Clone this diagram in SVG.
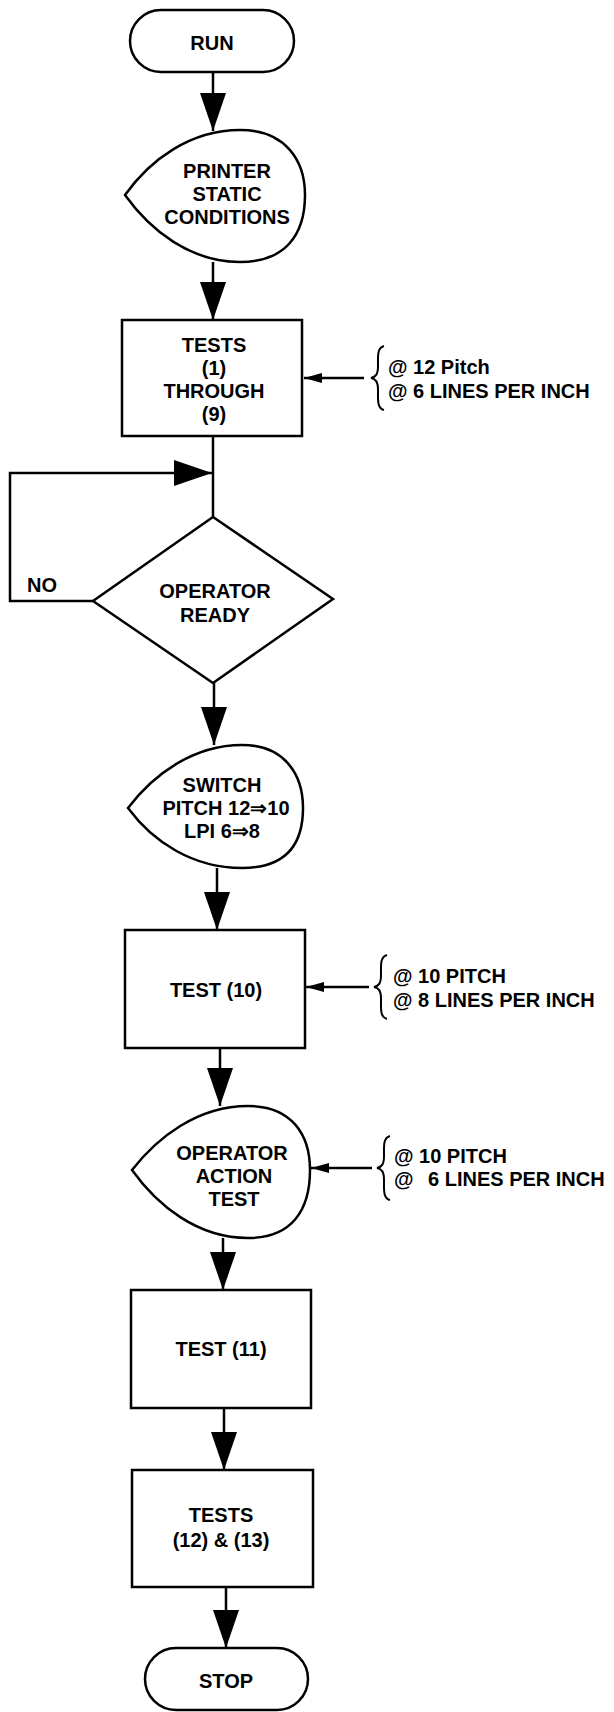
<svg xmlns="http://www.w3.org/2000/svg" width="614" height="1712" viewBox="0 0 614 1712">
<defs>
<style>
.s{fill:#fff;stroke:#000;stroke-width:2.5}
.c{fill:none;stroke:#000;stroke-width:2.5}
.b{fill:none;stroke:#000;stroke-width:2}
.t{font-family:"Liberation Sans",Arial,sans-serif;font-weight:bold;font-size:20px;fill:#000;text-anchor:middle}
.n{font-family:"Liberation Sans",Arial,sans-serif;font-weight:bold;font-size:20px;fill:#000}
</style>
<marker id="big" viewBox="0 0 38 26" markerWidth="38" markerHeight="26" markerUnits="userSpaceOnUse" refX="38" refY="13" orient="auto">
<path d="M0,0 L38,13 L0,26 Z" fill="#000"/>
</marker>
<marker id="small" viewBox="0 0 18 10" markerWidth="18" markerHeight="10" markerUnits="userSpaceOnUse" refX="18" refY="5" orient="auto">
<path d="M0,0 L18,5 L0,10 Z" fill="#000"/>
</marker>
</defs>
<rect width="614" height="1712" fill="#fff"/>

<g id="connectors">
<path class="c" d="M213,72 L213,131" marker-end="url(#big)"/>
<path class="c" d="M213,262 L213,320" marker-end="url(#big)"/>
<path class="c" d="M213,436 L213,517"/>
<path class="c" d="M93,601 L10,601 L10,473 L212,473" marker-end="url(#big)"/>
<path class="c" d="M214,683 L214,745" marker-end="url(#big)"/>
<path class="c" d="M217,868 L217,930" marker-end="url(#big)"/>
<path class="c" d="M220,1048 L220,1106" marker-end="url(#big)"/>
<path class="c" d="M223,1238 L223,1290" marker-end="url(#big)"/>
<path class="c" d="M224,1408 L224,1470" marker-end="url(#big)"/>
<path class="c" d="M226,1587 L226,1648" marker-end="url(#big)"/>
<path class="c" d="M364,378 L304,378" marker-end="url(#small)"/>
<path class="c" d="M369,987 L306,987" marker-end="url(#small)"/>
<path class="c" d="M372,1168 L311,1168" marker-end="url(#small)"/>
<text class="n" x="27" y="592">NO</text>
</g>

<g id="run">
<rect class="s" x="130" y="10" width="164" height="62" rx="31"/>
<text class="t" x="212" y="50">RUN</text>
</g>

<g id="printer">
<path class="s" d="M125,195 C150,160 190,130 240,130 C285,130 305,160 305,195 C305,235 285,262 240,262 C190,262 150,230 125,195 Z"/>
<text class="t" x="227" y="178">PRINTER</text>
<text class="t" x="227" y="201">STATIC</text>
<text class="t" x="227" y="224">CONDITIONS</text>
</g>

<g id="tests1-9">
<rect class="s" x="122" y="320" width="180" height="116"/>
<text class="t" x="214" y="352">TESTS</text>
<text class="t" x="214" y="375">(1)</text>
<text class="t" x="214" y="398">THROUGH</text>
<text class="t" x="214" y="421">(9)</text>
</g>

<g id="note1">
<path class="b" d="M384,346 C377,348 378,356 378,366 C378,374 376,377 371,378 C376,379 378,382 378,390 C378,400 377,408 384,410"/>
<text class="n" x="388" y="374">@ 12 Pitch</text>
<text class="n" x="388" y="398">@ 6 LINES PER INCH</text>
</g>

<g id="operator-ready">
<path class="s" d="M213,517 L333,599 L213,683 L93,601 Z"/>
<text class="t" x="215" y="598">OPERATOR</text>
<text class="t" x="215" y="622">READY</text>
</g>

<g id="switch">
<path class="s" d="M128,808 C153,775 193,745 242,745 C285,745 303,775 303,808 C303,845 285,868 242,868 C193,868 153,842 128,808 Z"/>
<text class="t" x="222" y="792">SWITCH</text>
<text class="t" x="226" y="815">PITCH 12⇒10</text>
<text class="t" x="222" y="838">LPI 6⇒8</text>
</g>

<g id="test10">
<rect class="s" x="125" y="930" width="180" height="118"/>
<text class="t" x="216" y="997">TEST (10)</text>
</g>

<g id="note2">
<path class="b" d="M387,955 C380,957 381,965 381,975 C381,983 379,986 374,987 C379,988 381,991 381,999 C381,1009 380,1017 387,1019"/>
<text class="n" x="393" y="983">@ 10 PITCH</text>
<text class="n" x="393" y="1007">@ 8 LINES PER INCH</text>
</g>

<g id="operator-action">
<path class="s" d="M132,1170 C157,1138 197,1106 248,1106 C292,1106 310,1135 310,1170 C310,1210 292,1238 248,1238 C197,1238 157,1205 132,1170 Z"/>
<text class="t" x="232" y="1160">OPERATOR</text>
<text class="t" x="234" y="1183">ACTION</text>
<text class="t" x="234" y="1206">TEST</text>
</g>

<g id="note3">
<path class="b" d="M390,1136 C383,1138 384,1146 384,1156 C384,1164 382,1167 377,1168 C382,1169 384,1172 384,1180 C384,1190 383,1198 390,1200"/>
<text class="n" x="394" y="1163">@ 10 PITCH</text>
<text class="n" x="394" y="1186">@<tspan x="428">6 LINES PER INCH</tspan></text>
</g>

<g id="test11">
<rect class="s" x="131" y="1290" width="180" height="118"/>
<text class="t" x="221" y="1356">TEST (11)</text>
</g>

<g id="tests12-13">
<rect class="s" x="132" y="1470" width="181" height="117"/>
<text class="t" x="221" y="1522">TESTS</text>
<text class="t" x="221" y="1547">(12) &amp; (13)</text>
</g>

<g id="stop">
<rect class="s" x="145" y="1648" width="163" height="62" rx="31"/>
<text class="t" x="226" y="1688">STOP</text>
</g>
</svg>
